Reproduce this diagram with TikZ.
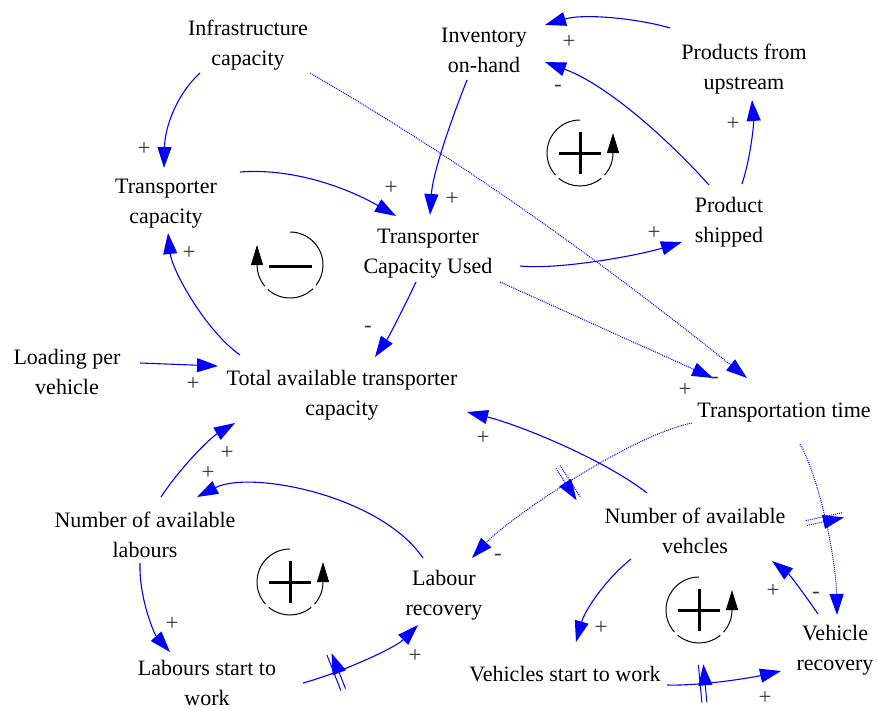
\documentclass[tikz,border=0pt]{standalone}
\usepackage{fontspec}
\setmainfont{Liberation Serif}
\usetikzlibrary{arrows.meta,calc,decorations.markings}
\begin{document}
\begin{tikzpicture}[x=1pt,y=-1pt,
  var/.style={font=\fontsize{22}{30}\selectfont, align=center, inner sep=0pt, yshift=-3pt},
  sgn/.style={font=\fontsize{23}{23}\selectfont, text=black!78, inner sep=0pt},
  conn/.style={draw=blue, line width=1.1pt, -{Triangle[length=21pt,width=14pt]}},
  dconn/.style={conn, line width=1pt, dash pattern=on 1pt off 1pt},
  dmark/.style={postaction={decorate}, decoration={markings, mark=at position #1 with {\draw[blue, solid, line width=1pt] (-2.5pt,-19pt) -- (-2.5pt,19pt) (2.5pt,-19pt) -- (2.5pt,19pt);}}},
  ddmark/.style={postaction={decorate}, decoration={markings, mark=at position #1 with {\draw[blue, dash pattern=on 1pt off 1pt, line width=1pt] (-2.5pt,-19pt) -- (-2.5pt,19pt) (2.5pt,-19pt) -- (2.5pt,19pt);}}},
  loopline/.style={draw=black, line width=1pt},
  looparrow/.style={loopline, -{Triangle[length=20pt,width=12pt]}},
  loopsign/.style={draw=black, line width=3pt},
]
\useasboundingbox (0,0) rectangle (877,709);

% variables
\node[var] (infra) at (248,42) {Infrastructure\\capacity};
\node[var] (inv) at (484,47) {Inventory\\on-hand};
\node[var] (prod) at (744,66) {Products from\\upstream};
\node[var] (tcap) at (166,201) {Transporter\\capacity};
\node[var] (tcu) at (428,251) {Transporter\\Capacity Used};
\node[var] (ship) at (729,219) {Product\\shipped};
\node[var] (load) at (67,369) {Loading per\\vehicle};
\node[var] (total) at (342,392) {Total available transporter\\capacity};
\node[var] (ttime) at (784,410) {Transportation time};
\node[var] (lab) at (145,532) {Number of available\\labours};
\node[var] (lrec) at (444,592) {Labour\\recovery};
\node[var] (veh) at (695,528) {Number of available\\vehcles};
\node[var] (lstart) at (207,680) {Labours start to\\work};
\node[var] (vstart) at (565,671) {Vehicles start to work};
\node[var] (vrec) at (835,647) {Vehicle\\recovery};

% connectors
\draw[conn] ($(infra)+(-48,28)$) .. controls (178,93) and (165,125) .. ($(tcap)+(-2,-36)$);
\draw[dconn] ($(infra)+(62,28)$) .. controls (460,160) and (597,258) .. ($(ttime)+(-37,-35)$);
\draw[conn] ($(tcap)+(74,-32)$) .. controls (290,168) and (344,186) .. ($(tcu)+(-32,-38)$);
\draw[conn] ($(inv)+(-17,30)$) .. controls (455,110) and (433,170) .. ($(tcu)+(2,-39)$);
\draw[conn] ($(prod)+(-74,-41)$) .. controls (640,19) and (585,13) .. ($(inv)+(61,-25)$);
\draw[conn] ($(ship)+(-20,-37)$) .. controls (664,135) and (605,84) .. ($(inv)+(61,12)$);
\draw[conn] ($(ship)+(13,-38)$) .. controls (750,160) and (754,125) .. ($(prod)+(8,31)$);
\draw[conn] ($(tcu)+(92,12)$) .. controls (560,270) and (640,255) .. ($(ship)+(-47,20)$);
\draw[dconn] ($(tcu)+(72,28)$) -- ($(ttime)+(-71,-35)$);
\draw[conn] ($(tcu)+(-12,28)$) .. controls (405,305) and (390,335) .. ($(total)+(33,-38)$);
\draw[conn] ($(total)+(-102,-40)$) .. controls (205,330) and (172,270) .. ($(tcap)+(2,29)$);
\draw[conn] ($(load)+(73,-9)$) -- ($(total)+(-124,-29)$);
\draw[conn] ($(lab)+(16,-38)$) .. controls (180,468) and (210,438) .. ($(total)+(-107,28)$);
\draw[conn] ($(lrec)+(-21,-37)$) .. controls (380,495) and (250,470) .. ($(lab)+(52,-38)$);
\draw[conn] ($(lab)+(-5,28)$) .. controls (139,600) and (155,635) .. ($(lstart)+(-37,-31)$);
\draw[conn, dmark=0.27] ($(lstart)+(96,0)$) .. controls (340,673) and (395,648) .. ($(lrec)+(-26,30)$);
\draw[conn] ($(veh)+(-48,-38)$) .. controls (605,460) and (520,425) .. ($(total)+(125,17)$);
\draw[dconn, ddmark=0.53] ($(ttime)+(-92,10)$) .. controls (628,436) and (507,520) .. ($(lrec)+(28,-37)$);
\draw[dconn, ddmark=0.45] ($(ttime)+(16,31)$) .. controls (820,480) and (836,560) .. ($(vrec)+(2,-35)$);
\draw[conn] ($(veh)+(-64,28)$) .. controls (605,580) and (585,610) .. ($(vstart)+(11,-32)$);
\draw[conn, dmark=0.31] ($(vstart)+(102,11)$) .. controls (700,686) and (750,678) .. ($(vrec)+(-54,21)$);
\draw[conn] ($(vrec)+(-17,-36)$) .. controls (805,595) and (790,575) .. ($(veh)+(77,30)$);

% polarity signs
\node[sgn] (s1) at (144,149) {+};
\node[sgn] (s2) at (391,188) {+};
\node[sgn] (s3) at (452,199) {+};
\node[sgn] (s4) at (569,42) {+};
\node[sgn] (s5) at (558,88) {-};
\node[sgn] (s6) at (733,124) {+};
\node[sgn] (s7) at (654,233) {+};
\node[sgn] (s8) at (685,390) {+};
\node[sgn] (s9) at (715,380) {-};
\node[sgn] (s10) at (368,329) {-};
\node[sgn] (s11) at (189,253) {+};
\node[sgn] (s12) at (193,384) {+};
\node[sgn] (s13) at (227,453) {+};
\node[sgn] (s14) at (208,473) {+};
\node[sgn] (s15) at (172,624) {+};
\node[sgn] (s16) at (415,656) {+};
\node[sgn] (s17) at (483,438) {+};
\node[sgn] (s18) at (498,557) {-};
\node[sgn] (s19) at (601,628) {+};
\node[sgn] (s20) at (765,698) {+};
\node[sgn] (s21) at (773,591) {+};
\node[sgn] (s22) at (816,595) {-};

% loop: balancing (upper left)
\draw[loopline] (290,265) ++(-90:33) arc[start angle=-90,end angle=38,radius=33];
\draw[loopline] (290,265) ++(46:33) arc[start angle=46,end angle=132,radius=33];
\draw[looparrow] (290,265) ++(140:33) arc[start angle=140,end angle=180,radius=33] -- ++(0,-20);
\draw[loopsign] (269,266) -- (312,266);

% loop: reinforcing (top right)
\draw[loopline] (580,153) ++(-90:33) arc[start angle=-90,end angle=-222,radius=33];
\draw[loopline] (580,153) ++(-230:33) arc[start angle=-230,end angle=-310,radius=33];
\draw[looparrow] (580,153) ++(-318:33) arc[start angle=-318,end angle=-360,radius=33] -- ++(0,-20);
\draw[loopsign] (559,153) -- (601,153) (580,132) -- (580,174);

% loop: reinforcing (bottom left)
\draw[loopline] (290,582) ++(-90:33) arc[start angle=-90,end angle=-222,radius=33];
\draw[loopline] (290,582) ++(-230:33) arc[start angle=-230,end angle=-310,radius=33];
\draw[looparrow] (290,582) ++(-318:33) arc[start angle=-318,end angle=-360,radius=33] -- ++(0,-20);
\draw[loopsign] (269,582) -- (311,582) (290,561) -- (290,603);

% loop: reinforcing (bottom right)
\draw[loopline] (699,610) ++(-90:33) arc[start angle=-90,end angle=-222,radius=33];
\draw[loopline] (699,610) ++(-230:33) arc[start angle=-230,end angle=-310,radius=33];
\draw[looparrow] (699,610) ++(-318:33) arc[start angle=-318,end angle=-360,radius=33] -- ++(0,-20);
\draw[loopsign] (678,610) -- (720,610) (699,589) -- (699,631);
\end{tikzpicture}
\end{document}
